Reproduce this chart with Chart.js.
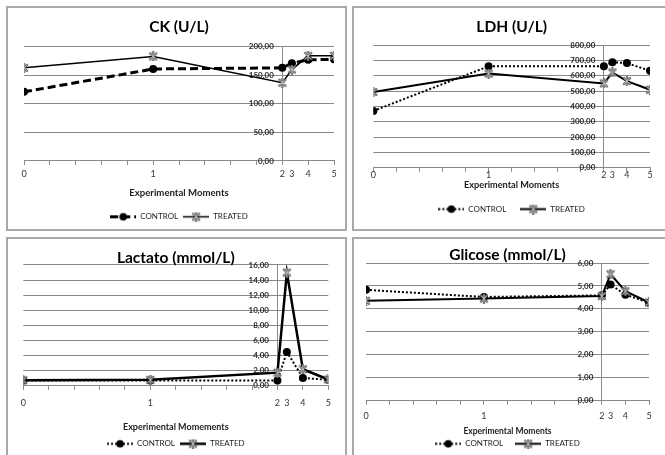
<!DOCTYPE html>
<html>
<head>
<meta charset="utf-8">
<script src="https://cdn.jsdelivr.net/npm/chart.js@4.4.1/dist/chart.umd.min.js"></script>
<style>
html, body { margin: 0; padding: 0; background: #fff; width: 665px; height: 455px; overflow: hidden; }
.panneau { position: absolute; box-sizing: border-box; border: 2px solid #a9a9a9; overflow: hidden; background: #fff; }
.panneau canvas { display: block; }
</style>
</head>
<body>
<div class="panneau" style="left:6px;top:6px;width:341px;height:225px"><canvas id="ck" width="337" height="224"></canvas></div>
<div class="panneau" style="left:352px;top:6px;width:330px;height:225px"><canvas id="ldh" width="326" height="221"></canvas></div>
<div class="panneau" style="left:6px;top:237px;width:341px;height:230px"><canvas id="lactato" width="337" height="226"></canvas></div>
<div class="panneau" style="left:352px;top:237px;width:330px;height:230px"><canvas id="glicose" width="326" height="226"></canvas></div>
<script>
// moments experimentaux (position sur l'axe) et leurs etiquettes
const momentsX = [0, 5, 10, 10.37, 11, 12];
const momentsLabels = ['0', '1', '2', '3', '4', '5'];
const graduationsX = [0, 1, 2, 3, 4, 5, 6, 7, 8, 9, 10, 11, 12];
const legendeLabels = ['CONTROL', 'TREATED'];

const ckControl = [121, 161, 163, 171, 177, 178];
const ckTreated = [163, 183, 137, 160, 184, 184];
const ckTicks = [0, 50, 100, 150, 200];

const ldhControl = [371, 661, 661, 688, 682, 632];
const ldhTreated = [494, 614, 550, 621, 565, 509];
const ldhTicks = [0, 100, 200, 300, 400, 500, 600, 700, 800];

const lactatoControl = [0.7, 0.7, 0.7, 4.5, 1.05, 0.8];
const lactatoTreated = [0.75, 0.8, 1.75, 15.0, 2.2, 0.85];
const lactatoTicks = [0, 2, 4, 6, 8, 10, 12, 14, 16];

const glicoseControl = [4.83, 4.52, 4.59, 5.06, 4.62, 4.27];
const glicoseTreated = [4.35, 4.45, 4.56, 5.51, 4.77, 4.28];
const glicoseTicks = [0, 1, 2, 3, 4, 5, 6];

Chart.defaults.font.family = 'Lato';

function points(valeurs) {
    return valeurs.map((v, i) => ({ x: momentsX[i], y: v }));
}

function etoile() {
    const c = document.createElement('canvas');
    c.width = 10;
    c.height = 10;
    const g = c.getContext('2d');
    g.lineCap = 'round';
    [['#5a5a5a', 2.4], ['#c4c4c4', 0.9]].forEach(([couleur, epaisseur]) => {
        g.strokeStyle = couleur;
        g.lineWidth = epaisseur;
        g.beginPath();
        g.moveTo(2, 2); g.lineTo(8, 8);
        g.moveTo(8, 2); g.lineTo(2, 8);
        g.moveTo(5, 1); g.lineTo(5, 9);
        g.stroke();
    });
    return c;
}

function echantillon(tirets, epaisseur, marqueur) {
    const c = document.createElement('canvas');
    c.width = 26;
    c.height = 11;
    const g = c.getContext('2d');
    g.strokeStyle = '#000';
    g.lineWidth = epaisseur;
    g.setLineDash(tirets);
    g.beginPath();
    g.moveTo(0, 5.5);
    g.lineTo(26, 5.5);
    g.stroke();
    g.setLineDash([]);
    if (marqueur === 'rond') {
        g.fillStyle = '#000';
        g.beginPath();
        g.arc(13, 5.5, 3.8, 0, Math.PI * 2);
        g.fill();
    } else {
        g.drawImage(marqueur, 13 - marqueur.width / 2, 5.5 - marqueur.height / 2);
    }
    return c;
}

function virgule(v) {
    return v.toFixed(2).replace('.', ',');
}

function graphique(id, titre, titreAxe, controle, traite, graduationsY, style, m) {
    const marqueur = etoile();
    const legendeControle = echantillon(style.tirets, style.controle, 'rond');
    const legendeTraite = echantillon([], style.traite, marqueur);

    new Chart(document.getElementById(id), {
        type: 'line',
        data: {
            datasets: [{
                label: legendeLabels[1],
                data: points(traite),
                borderColor: '#000',
                borderWidth: style.traite,
                pointStyle: marqueur,
                tension: 0
            }, {
                label: legendeLabels[0],
                data: points(controle),
                borderColor: '#000',
                borderWidth: style.controle,
                borderDash: style.tirets,
                pointStyle: 'circle',
                pointRadius: 4,
                pointBackgroundColor: '#000',
                pointBorderColor: '#000',
                pointBorderWidth: 0,
                tension: 0
            }]
        },
        options: {
            responsive: false,
            animation: false,
            events: [],
            layout: {
                padding: { left: m.gauche, right: m.droite, top: 0, bottom: m.bas }
            },
            plugins: {
                title: {
                    display: true,
                    text: titre,
                    color: '#000',
                    font: { size: 15.5, weight: 'bold' },
                    padding: { top: m.titreHaut, bottom: m.titreBas }
                },
                legend: {
                    position: 'bottom',
                    labels: {
                        usePointStyle: true,
                        pointStyleWidth: 26,
                        boxHeight: 10,
                        padding: m.legende,
                        color: '#222',
                        font: { size: 8 },
                        generateLabels: () => [
                            { text: legendeLabels[0], pointStyle: legendeControle, fillStyle: 'rgba(0,0,0,0)', strokeStyle: 'rgba(0,0,0,0)', lineWidth: 0, hidden: false, datasetIndex: 1, fontColor: '#222' },
                            { text: legendeLabels[1], pointStyle: legendeTraite, fillStyle: 'rgba(0,0,0,0)', strokeStyle: 'rgba(0,0,0,0)', lineWidth: 0, hidden: false, datasetIndex: 0, fontColor: '#222' }
                        ]
                    }
                },
                tooltip: { enabled: false }
            },
            scales: {
                x: {
                    type: 'linear',
                    min: 0,
                    max: 12,
                    afterBuildTicks: (echelle) => {
                        const valeurs = [...new Set(graduationsX.concat(momentsX))].sort((a, b) => a - b);
                        echelle.ticks = valeurs.map(v => ({ value: v }));
                    },
                    ticks: {
                        autoSkip: false,
                        maxRotation: 0,
                        padding: m.etiquettes,
                        color: '#333',
                        font: { size: 9 },
                        callback: (valeur) => {
                            const i = momentsX.indexOf(valeur);
                            return i >= 0 ? momentsLabels[i] : '';
                        }
                    },
                    grid: {
                        drawOnChartArea: false,
                        tickLength: 4,
                        color: (ctx) => Number.isInteger(ctx.tick.value) ? '#8a8a8a' : 'rgba(0,0,0,0)'
                    },
                    border: { color: '#8a8a8a' },
                    title: {
                        display: true,
                        text: titreAxe,
                        color: '#222',
                        font: { size: m.axe, weight: 'bold' },
                        padding: { top: m.axeHaut, bottom: m.axeBas }
                    }
                },
                // axe vertical qui croise au moment 2 : lignes de grille et trait
                y: {
                    type: 'linear',
                    position: { x: 10 },
                    min: graduationsY[0],
                    max: graduationsY[graduationsY.length - 1],
                    afterBuildTicks: (echelle) => {
                        echelle.ticks = graduationsY.map(v => ({ value: v }));
                    },
                    ticks: { display: false },
                    grid: { color: '#8a8a8a', drawTicks: false },
                    border: { color: '#8a8a8a' }
                },
                // etiquettes du meme axe, un peu a gauche du trait
                yEtiquettes: {
                    type: 'linear',
                    axis: 'y',
                    position: { x: m.etiquettesY },
                    min: graduationsY[0],
                    max: graduationsY[graduationsY.length - 1],
                    afterBuildTicks: (echelle) => {
                        echelle.ticks = graduationsY.map(v => ({ value: v }));
                    },
                    ticks: {
                        padding: 0,
                        color: '#2a2a2a',
                        font: { size: 8, weight: 'bold' },
                        callback: (valeur) => virgule(valeur)
                    },
                    grid: { display: false, drawTicks: false },
                    border: { display: false }
                }
            }
        }
    });
}

graphique('ck', 'CK (U/L)', 'Experimental Moments', ckControl, ckTreated, ckTicks,
    { controle: 3, traite: 1.5, tirets: [8, 4] },
    { gauche: 16, droite: 11, bas: 1.2, titreHaut: 9.7, titreBas: 10.4, etiquettes: 4, axe: 9.6, axeHaut: 3.8, axeBas: 8.7, legende: 5, etiquettesY: 9.67 });

graphique('ldh', 'LDH (U/L)', 'Experimental Moments', ldhControl, ldhTreated, ldhTicks,
    { controle: 2, traite: 2, tirets: [2, 2] },
    { gauche: 19.3, droite: 30, bas: 5.9, titreHaut: 9.7, titreBas: 8.7, etiquettes: -2, axe: 9.2, axeHaut: 0.7, axeBas: 0.7, legende: 14, etiquettesY: 9.63 });

graphique('lactato', 'Lactato (mmol/L)', 'Experimental Momements', lactatoControl, lactatoTreated, lactatoTicks,
    { controle: 2, traite: 2.5, tirets: [2, 2] },
    { gauche: 15.3, droite: 16.7, bas: 7.2, titreHaut: 9.7, titreBas: -2.3, etiquettes: 8, axe: 9, axeHaut: 4.8, axeBas: 2.5, legende: 5, etiquettesY: 9.665 });

graphique('glicose', 'Glicose (mmol/L)', 'Experimental Moments', glicoseControl, glicoseTreated, glicoseTicks,
    { controle: 2, traite: 2, tirets: [2, 2] },
    { gauche: 12, droite: 31, bas: 7.2, titreHaut: 6.4, titreBas: -1, etiquettes: 5.6, axe: 8.5, axeHaut: -0.5, axeBas: -8.6, legende: 12, etiquettesY: 9.64 });
</script>
</body>
</html>
